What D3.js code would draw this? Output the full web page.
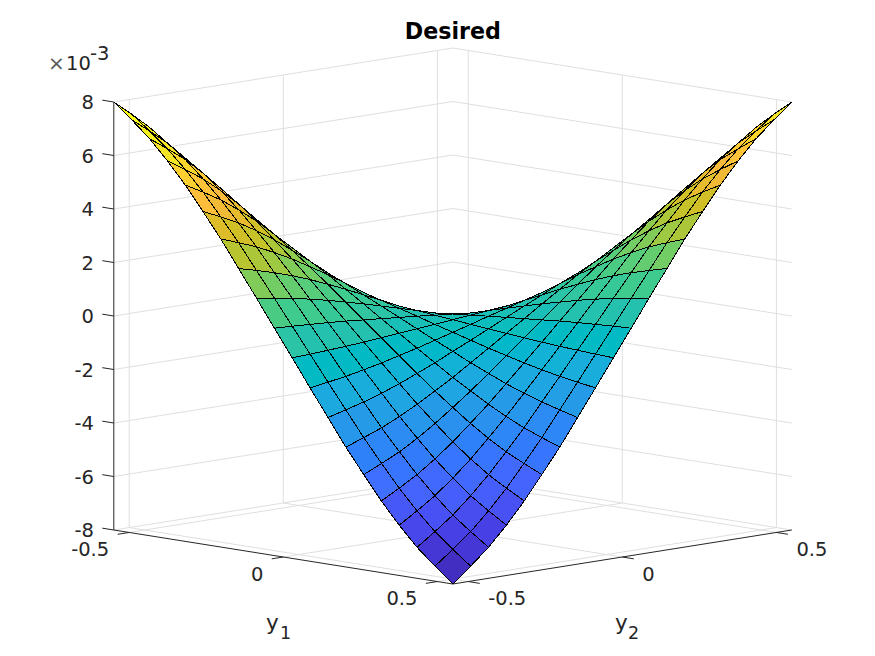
<!DOCTYPE html>
<html><head><meta charset="utf-8">
<script src="https://cdnjs.cloudflare.com/ajax/libs/d3/7.8.5/d3.min.js"></script>
<style>html,body{margin:0;padding:0;background:#fff}svg{display:block}text{font-family:"DejaVu Sans";fill:#262626}</style>
</head><body><div id="chart"></div>
<script>
const y1Values=[-0.55,-0.492,-0.434,-0.376,-0.318,-0.261,-0.203,-0.145,-0.087,-0.029,0.029,0.087,0.145,0.203,0.261,0.318,0.376,0.434,0.492,0.55];
const y2Values=[-0.55,-0.492,-0.434,-0.376,-0.318,-0.261,-0.203,-0.145,-0.087,-0.029,0.029,0.087,0.145,0.203,0.261,0.318,0.376,0.434,0.492,0.55];
// z in units of 1e-3; rows follow y1, columns follow y2
const zGrid=[
[8.00,7.44,6.84,6.12,5.32,4.44,3.52,2.52,1.52,0.50,-0.50,-1.52,-2.52,-3.52,-4.44,-5.32,-6.12,-6.84,-7.44,-8.00],
[7.44,6.92,6.36,5.69,4.95,4.13,3.27,2.34,1.41,0.47,-0.47,-1.41,-2.34,-3.27,-4.13,-4.95,-5.69,-6.36,-6.92,-7.44],
[6.84,6.36,5.85,5.23,4.55,3.80,3.01,2.15,1.30,0.43,-0.43,-1.30,-2.15,-3.01,-3.80,-4.55,-5.23,-5.85,-6.36,-6.84],
[6.12,5.69,5.23,4.68,4.07,3.40,2.69,1.93,1.16,0.39,-0.39,-1.16,-1.93,-2.69,-3.40,-4.07,-4.68,-5.23,-5.69,-6.12],
[5.32,4.95,4.55,4.07,3.54,2.95,2.34,1.68,1.01,0.34,-0.34,-1.01,-1.68,-2.34,-2.95,-3.54,-4.07,-4.55,-4.95,-5.32],
[4.44,4.13,3.80,3.40,2.95,2.46,1.95,1.40,0.84,0.28,-0.28,-0.84,-1.40,-1.95,-2.46,-2.95,-3.40,-3.80,-4.13,-4.44],
[3.52,3.27,3.01,2.69,2.34,1.95,1.55,1.11,0.67,0.22,-0.22,-0.67,-1.11,-1.55,-1.95,-2.34,-2.69,-3.01,-3.27,-3.52],
[2.52,2.34,2.15,1.93,1.68,1.40,1.11,0.79,0.48,0.16,-0.16,-0.48,-0.79,-1.11,-1.40,-1.68,-1.93,-2.15,-2.34,-2.52],
[1.52,1.41,1.30,1.16,1.01,0.84,0.67,0.48,0.29,0.10,-0.10,-0.29,-0.48,-0.67,-0.84,-1.01,-1.16,-1.30,-1.41,-1.52],
[0.50,0.47,0.43,0.39,0.34,0.28,0.22,0.16,0.10,0.03,-0.03,-0.10,-0.16,-0.22,-0.28,-0.34,-0.39,-0.43,-0.47,-0.50],
[-0.50,-0.47,-0.43,-0.39,-0.34,-0.28,-0.22,-0.16,-0.10,-0.03,0.03,0.10,0.16,0.22,0.28,0.34,0.39,0.43,0.47,0.50],
[-1.52,-1.41,-1.30,-1.16,-1.01,-0.84,-0.67,-0.48,-0.29,-0.10,0.10,0.29,0.48,0.67,0.84,1.01,1.16,1.30,1.41,1.52],
[-2.52,-2.34,-2.15,-1.93,-1.68,-1.40,-1.11,-0.79,-0.48,-0.16,0.16,0.48,0.79,1.11,1.40,1.68,1.93,2.15,2.34,2.52],
[-3.52,-3.27,-3.01,-2.69,-2.34,-1.95,-1.55,-1.11,-0.67,-0.22,0.22,0.67,1.11,1.55,1.95,2.34,2.69,3.01,3.27,3.52],
[-4.44,-4.13,-3.80,-3.40,-2.95,-2.46,-1.95,-1.40,-0.84,-0.28,0.28,0.84,1.40,1.95,2.46,2.95,3.40,3.80,4.13,4.44],
[-5.32,-4.95,-4.55,-4.07,-3.54,-2.95,-2.34,-1.68,-1.01,-0.34,0.34,1.01,1.68,2.34,2.95,3.54,4.07,4.55,4.95,5.32],
[-6.12,-5.69,-5.23,-4.68,-4.07,-3.40,-2.69,-1.93,-1.16,-0.39,0.39,1.16,1.93,2.69,3.40,4.07,4.68,5.23,5.69,6.12],
[-6.84,-6.36,-5.85,-5.23,-4.55,-3.80,-3.01,-2.15,-1.30,-0.43,0.43,1.30,2.15,3.01,3.80,4.55,5.23,5.85,6.36,6.84],
[-7.44,-6.92,-6.36,-5.69,-4.95,-4.13,-3.27,-2.34,-1.41,-0.47,0.47,1.41,2.34,3.27,4.13,4.95,5.69,6.36,6.92,7.44],
[-8.00,-7.44,-6.84,-6.12,-5.32,-4.44,-3.52,-2.52,-1.52,-0.50,0.50,1.52,2.52,3.52,4.44,5.32,6.12,6.84,7.44,8.00]
];
const zTicks=[-8,-6,-4,-2,0,2,4,6,8];
const yTicks=[-0.5,0,0.5];
const yLabels=["-0.5","0","0.5"];
const parula=[[.2422,.1504,.6603],[.2504,.1650,.7076],[.2578,.1818,.7511],[.2647,.1978,.7952],[.2706,.2147,.8364],[.2751,.2342,.8710],[.2783,.2559,.8991],[.2803,.2782,.9221],[.2813,.3006,.9414],[.2810,.3228,.9579],[.2795,.3447,.9717],[.2760,.3667,.9829],[.2699,.3892,.9906],[.2602,.4123,.9952],[.2440,.4358,.9988],[.2206,.4603,.9973],[.1963,.4847,.9892],[.1834,.5074,.9798],[.1786,.5289,.9682],[.1764,.5499,.9520],[.1687,.5703,.9359],[.1540,.5902,.9218],[.1460,.6091,.9079],[.1380,.6276,.8973],[.1248,.6459,.8883],[.1113,.6635,.8763],[.0952,.6798,.8598],[.0689,.6948,.8394],[.0297,.7082,.8163],[.0036,.7203,.7917],[.0067,.7312,.7660],[.0433,.7411,.7394],[.0964,.7500,.7120],[.1408,.7584,.6842],[.1717,.7670,.6554],[.1938,.7758,.6251],[.2161,.7843,.5923],[.2470,.7918,.5567],[.2906,.7973,.5188],[.3406,.8008,.4789],[.3909,.8029,.4354],[.4456,.8024,.3909],[.5044,.7993,.3480],[.5616,.7942,.3045],[.6174,.7876,.2612],[.6720,.7793,.2227],[.7242,.7698,.1910],[.7738,.7598,.1646],[.8203,.7498,.1535],[.8634,.7406,.1596],[.9035,.7330,.1774],[.9393,.7288,.2100],[.9728,.7298,.2394],[.9956,.7434,.2371],[.9970,.7659,.2199],[.9952,.7893,.2028],[.9892,.8136,.1885],[.9786,.8386,.1766],[.9676,.8639,.1643],[.9610,.8890,.1537],[.9597,.9135,.1423],[.9628,.9373,.1265],[.9691,.9606,.1064],[.9769,.9839,.0805]];

const W=875,H=656,cx=452.8,floorY=530;
const lim=[-0.55,0.55];
const hx=d3.scaleLinear().domain(lim).range([-169.5,169.5]);
const dy=d3.scaleLinear().domain(lim).range([-27,27]);
const zs=d3.scaleLinear().domain([-8,8]).range([0,-428]);
const project=(a,b,z)=>[cx+hx(a)+hx(b), floorY+dy(a)-dy(b)+zs(z)];
const depth=(a,b,z)=>0.698*(a-b)/0.55+0.018*z;
const colorIdx=d3.scaleQuantize().domain([-8,8]).range(d3.range(64));
const colorOf=z=>{const c=parula[colorIdx(z)];return d3.rgb(c[0]*255,c[1]*255,c[2]*255).formatHex();};
const line=d3.line();

const svg=d3.select("#chart").append("svg").attr("width",W).attr("height",H).attr("viewBox",`0 0 ${W} ${H}`);
const gridCol="#dfdfdf",ink="#262626";
const seg=(g,pts,col,w)=>g.append("path").attr("d",line(pts)).attr("fill","none").attr("stroke",col).attr("stroke-width",w);

// grid on the two back walls and the floor
const grid=svg.append("g");
const [lo,hi]=lim;
zTicks.forEach(z=>{
  seg(grid,[project(lo,lo,z),project(lo,hi,z),project(hi,hi,z)],gridCol,1);
});
yTicks.forEach(t=>{
  seg(grid,[project(lo,t,-8),project(lo,t,8)],gridCol,1);
  seg(grid,[project(t,hi,-8),project(t,hi,8)],gridCol,1);
  seg(grid,[project(t,lo,-8),project(t,hi,-8)],gridCol,1);
  seg(grid,[project(lo,t,-8),project(hi,t,-8)],gridCol,1);
});

// axes
const axes=svg.append("g");
seg(axes,[project(lo,lo,-8),project(hi,lo,-8),project(hi,hi,-8)],ink,1);
seg(axes,[project(lo,lo,-8),project(lo,lo,8)],ink,1);
const tickY=0.0374;
zTicks.forEach(z=>{
  seg(axes,[project(lo,lo,z),project(lo-tickY,lo,z)],ink,1);
});
yTicks.forEach(t=>{
  seg(axes,[project(t,lo,-8),project(t,lo-tickY,-8)],ink,1);
  seg(axes,[project(hi,t,-8),project(hi+tickY,t,-8)],ink,1);
});

// surface, far cells first
const cells=[];
d3.range(y1Values.length-1).forEach(i=>{
  d3.range(y2Values.length-1).forEach(j=>{
    const c=[[i,j],[i+1,j],[i+1,j+1],[i,j+1]];
    const pts=c.map(([a,b])=>project(y1Values[a],y2Values[b],zGrid[a][b]));
    const d=d3.mean(c,([a,b])=>depth(y1Values[a],y2Values[b],zGrid[a][b]));
    cells.push({pts,d,z:zGrid[i][j]});
  });
});
cells.sort((a,b)=>d3.ascending(a.d,b.d));
svg.append("g").attr("shape-rendering","crispEdges").selectAll("path").data(cells).join("path")
  .attr("d",d=>line(d.pts)+"Z")
  .attr("fill",d=>colorOf(d.z))
  .attr("stroke","#000").attr("stroke-width",1).attr("stroke-linejoin","round");

// labels
const fs=19.5;
const txt=(x,y,s,o={})=>svg.append("text").attr("x",x).attr("y",y).attr("text-anchor",o.anchor||"middle")
  .attr("font-size",o.size||fs).attr("font-weight",o.weight||"normal").style("fill",o.fill||ink).text(s);
zTicks.forEach(z=>{
  const p=project(lo,lo,z);
  txt(94,p[1]+7,String(z),{anchor:"end"});
});
yTicks.forEach((t,i)=>{
  const a=project(t,lo,-8), b=project(hi,t,-8);
  txt(a[0]-20,a[1]+23.5,yLabels[i],{anchor:"end"});
  txt(b[0]+20,b[1]+23.5,yLabels[i],{anchor:"start"});
});
txt(452.8,39,"Desired",{size:22.2,weight:"bold",fill:"#000"});
txt(48,70,"×",{anchor:"start",size:20,fill:"#5a5a5a"});
txt(66,70,"10",{anchor:"start",size:19.5});
txt(90,60,"-3",{anchor:"start",size:19.5});
txt(266,630,"y",{anchor:"start",size:21.5});
txt(280,639,"1",{anchor:"start",size:17.5});
txt(615,630,"y",{anchor:"start",size:21.5});
txt(628,639,"2",{anchor:"start",size:17.5});
</script></body></html>
